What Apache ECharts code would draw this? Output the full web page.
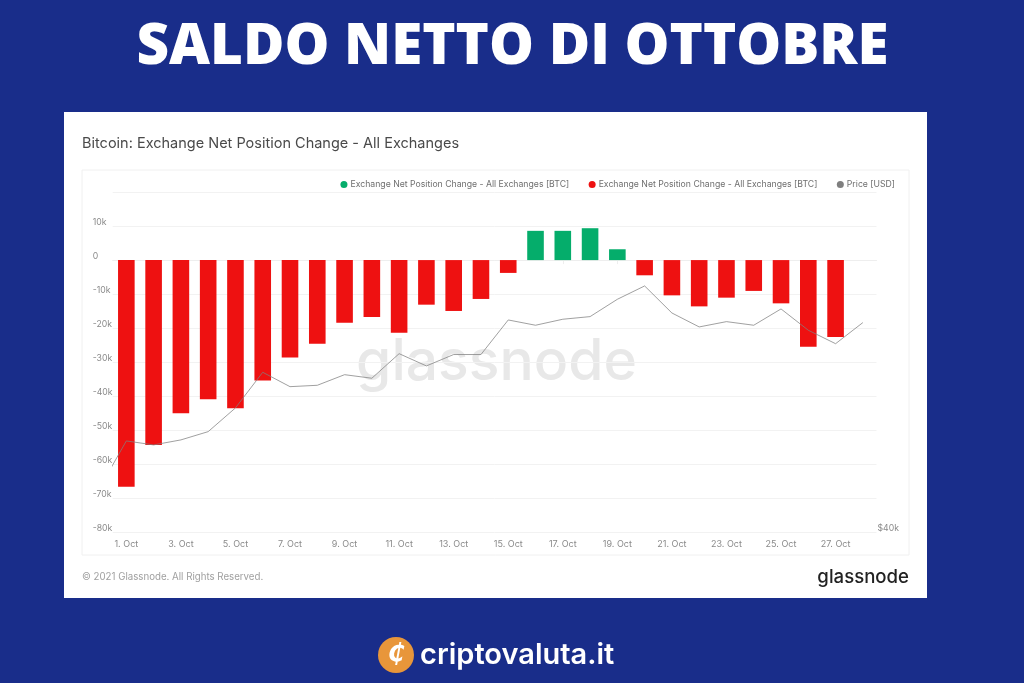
<!DOCTYPE html>
<html><head><meta charset="utf-8">
<style>html,body{margin:0;padding:0;background:#192d8a}#c{width:1024px;height:683px}</style>
<script src="https://cdn.jsdelivr.net/npm/echarts@6/dist/echarts.min.js"></script>
</head><body><div id="c"></div>
<script>
const tickDays = [1,3,5,7,9,11,13,15,17,19,21,23,25,27];
const barDays = [1,2,3,4,5,6,7,8,9,10,11,12,13,14,15,16,17,18,19,20,21,22,23,24,25,26,27];
const netChange = [-66570,-54300,-44970,-40850,-43500,-35370,-28600,-24570,-18390,-16720,-21340,-13100,-14950,-11420,-3770,8590,8590,9360,3180,-4470,-10360,-13600,-11040,-9060,-12710,-25460,-22600];
const priceDays = [0,1,2,3,4,5,6,7,8,9,10,11,12,13,14,15,16,17,18,19,20,21,22,23,24,25,26,27,28];
const priceUsd = [43700,48190,47800,48290,49110,51540,55420,53820,53970,55150,54750,57560,56140,57460,57460,61650,60990,61740,62070,64300,66070,62530,60780,61440,60990,63050,60370,58740,61320];
const netName = 'Exchange Net Position Change - All Exchanges [BTC]';
const netNameOut = netName + '\u200b';
const priceName = 'Price [USD]';
const txt = '#8a8a8a', FONT = 'Inter';

const chart = echarts.init(document.getElementById('c'), null, {renderer:'canvas'});
const pos = barDays.map((d,i)=>[d, netChange[i] > 0 ? netChange[i] : null]);
const neg = barDays.map((d,i)=>[d, netChange[i] < 0 ? netChange[i] : null]);
chart.setOption({
  backgroundColor:'#192d8a',
  animation:false,
  textStyle:{fontFamily:FONT},
  legend:{top:180, right:129, itemWidth:7, itemHeight:7, icon:'circle', itemGap:19.5, padding:0,
    textStyle:{color:'#6f6f6f', fontSize:8.7, fontFamily:FONT, padding:[0,0,0,-2]},
    data:[{name:netName},{name:netNameOut},{name:priceName}]},
  grid:{left:112.7, right:1024-876.5, top:192, bottom:683-532.4},
  xAxis:{type:'value', min:0.5, max:28.5, splitLine:{show:false},
    axisLine:{lineStyle:{color:'#eeeeee'}},
    axisTick:{length:4, lineStyle:{color:'#eeeeee'}, customValues:tickDays},
    axisLabel:{color:txt, fontSize:9, margin:7, customValues:tickDays, formatter:v=>Math.round(v)+'. Oct', hideOverlap:false}},
  yAxis:[
    {type:'value', min:-80000, max:20000, interval:10000,
     axisLine:{show:false}, axisTick:{show:false},
     splitLine:{lineStyle:{color:'#f2f2f2'}},
     axisLabel:{align:'left', margin:20, color:txt, fontSize:8.7, verticalAlign:'bottom', lineHeight:8,
       formatter:v=>v===20000?'':(v===0?'0':(v/1000)+'k')}},
    {type:'log', logBase:2, min:40000, max:80000, position:'right',
     axisLine:{show:false}, axisTick:{show:false}, splitLine:{show:false},
     axisLabel:{color:txt, fontSize:8.7, margin:1, verticalAlign:'bottom', lineHeight:8, customValues:[40000],
       formatter:v=>'$'+Math.round(v/1000)+'k'}}
  ],
  series:[
    {name:netName, type:'bar', data:pos, barWidth:16.6, barGap:'-100%', itemStyle:{color:'#05ad6b'}, z:3},
    {name:netNameOut, type:'bar', data:neg, barWidth:16.6, barGap:'-100%', itemStyle:{color:'#ee1111'}, z:3},
    {name:priceName, type:'line', yAxisIndex:1, data:priceDays.map((d,i)=>[d,priceUsd[i]]), showSymbol:false, symbol:'none',
     lineStyle:{color:'#808080', width:1, opacity:.75}, itemStyle:{color:'#7f7f7f'}, z:4}
  ],
  graphic:[
    {type:'rect', z:-10, silent:true, shape:{x:64,y:112,width:863,height:486}, style:{fill:'#ffffff'}},
    {type:'rect', z:-9, silent:true, shape:{x:82,y:170,width:827,height:385}, style:{fill:'#ffffff',stroke:'#f0f0f0',lineWidth:1}},
    {type:'text', z:-8, silent:true, x:496.5, y:363, style:{text:'glassnode', fill:'#e8e8e8', font:'500 57px Inter', align:'center', verticalAlign:'middle'}},
    {type:'text', z:5, silent:true, x:512.5, y:48, style:{text:'SALDO NETTO DI OTTOBRE', fill:'#ffffff', font:'800 56.5px "Open Sans"', align:'center', verticalAlign:'middle'}},
    {type:'text', z:5, silent:true, x:82, y:144, style:{text:'Bitcoin: Exchange Net Position Change - All Exchanges', fill:'#4a4a4a', font:'400 14.5px Inter', verticalAlign:'middle'}},
    {type:'text', z:5, silent:true, x:82, y:577, style:{text:'© 2021 Glassnode. All Rights Reserved.', fill:'#a0a0a0', font:'400 9.7px Inter', verticalAlign:'middle'}},
    {type:'text', z:5, silent:true, x:909, y:577, style:{text:'glassnode', fill:'#222222', font:'500 18.6px Inter', align:'right', verticalAlign:'middle'}},
    {type:'circle', z:5, silent:true, shape:{cx:396,cy:655,r:18}, style:{fill:'#e8963a'}},
    {type:'text', z:6, silent:true, x:396, y:655, style:{text:'₵', fill:'#ffffff', font:'italic 700 24px "DejaVu Sans"', align:'center', verticalAlign:'middle'}},
    {type:'text', z:5, silent:true, x:420, y:655, style:{text:'criptovaluta.it', fill:'#ffffff', font:'600 29px Inter', verticalAlign:'middle'}}
  ]
});
</script></body></html>
